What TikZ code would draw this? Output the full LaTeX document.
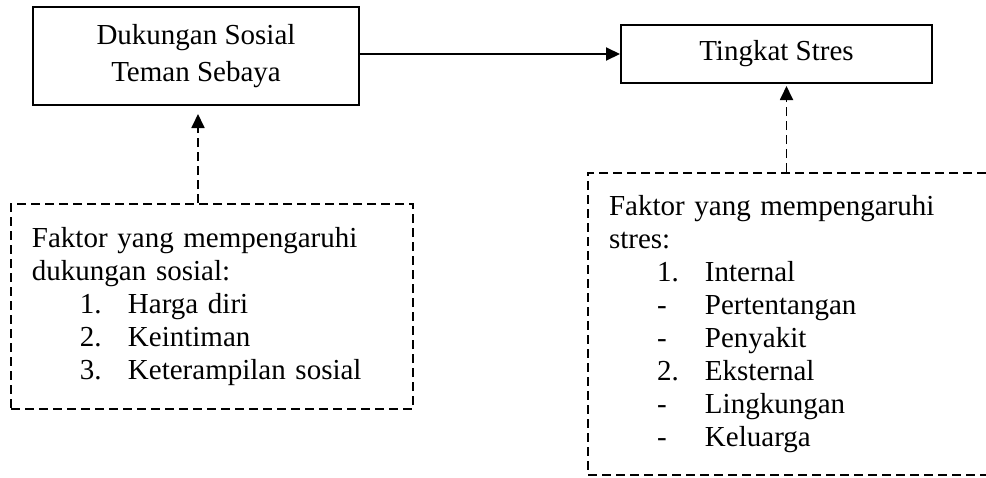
\documentclass[tikz,border=0pt]{standalone}
\usepackage{fontspec}
\setmainfont{Liberation Serif}
\usepackage{tikz}
\usetikzlibrary{arrows.meta,positioning}

\begin{document}
\begin{tikzpicture}[
    x=0.5pt, y=-0.5pt,
    font=\fontsize{14.5}{16.5}\selectfont,
    varbox/.style={draw, line width=1pt, rectangle, align=center, inner sep=0pt},
    factbox/.style={draw, line width=0.9pt, dash pattern=on 4.5pt off 2.5pt, rectangle, align=left, inner xsep=10.5pt, inner ysep=0pt},
    link/.style={line width=1pt, -{Triangle[length=7pt,width=6.5pt]}},
    infl/.style={line width=0.9pt, dash pattern=on 4.5pt off 2.5pt, -{Triangle[length=7pt,width=6.5pt]}}
]
    \useasboundingbox (0,0) rectangle (986,477);

    % Variable boxes
    \node[varbox, minimum width=163pt, minimum height=49pt, font=\fontsize{14.5}{18.3}\selectfont] (dsts) at (196,56) {Dukungan Sosial\\Teman Sebaya};
    \node[varbox, minimum width=155.5pt, minimum height=29pt] (stres) at (776.5,54) {Tingkat Stres};
    \draw[link] (dsts.east |- stres.west) -- (stres.west);

    % Factors for social support
    \node[factbox, text width=180pt, minimum height=102.5pt] (fdukung) at (212,306.5) {Faktor yang mempengaruhi\\dukungan sosial:\\
        \hspace*{24pt}\makebox[24pt][l]{1.}Harga diri\\
        \hspace*{24pt}\makebox[24pt][l]{2.}Keintiman\\
        \hspace*{24pt}\makebox[24pt][l]{3.}Keterampilan sosial\\[3pt]};
    \draw[infl, shorten >=4pt] ([xshift=1pt]fdukung.north -| dsts.south) -- ([xshift=1pt]dsts.south);

    % Factors for stress
    \node[factbox, text width=185pt, minimum height=151pt] (fstres) at (794,324) {Faktor yang mempengaruhi\\stres:\\
        \hspace*{24pt}\makebox[24pt][l]{1.}Internal\\
        \hspace*{24pt}\makebox[24pt][l]{-}Pertentangan\\
        \hspace*{24pt}\makebox[24pt][l]{-}Penyakit\\
        \hspace*{24pt}\makebox[24pt][l]{2.}Eksternal\\
        \hspace*{24pt}\makebox[24pt][l]{-}Lingkungan\\
        \hspace*{24pt}\makebox[24pt][l]{-}Keluarga};
    \draw[infl, shorten >=1pt] ([xshift=5pt]fstres.north -| stres.south) -- ([xshift=5pt]stres.south);

\end{tikzpicture}
\end{document}
